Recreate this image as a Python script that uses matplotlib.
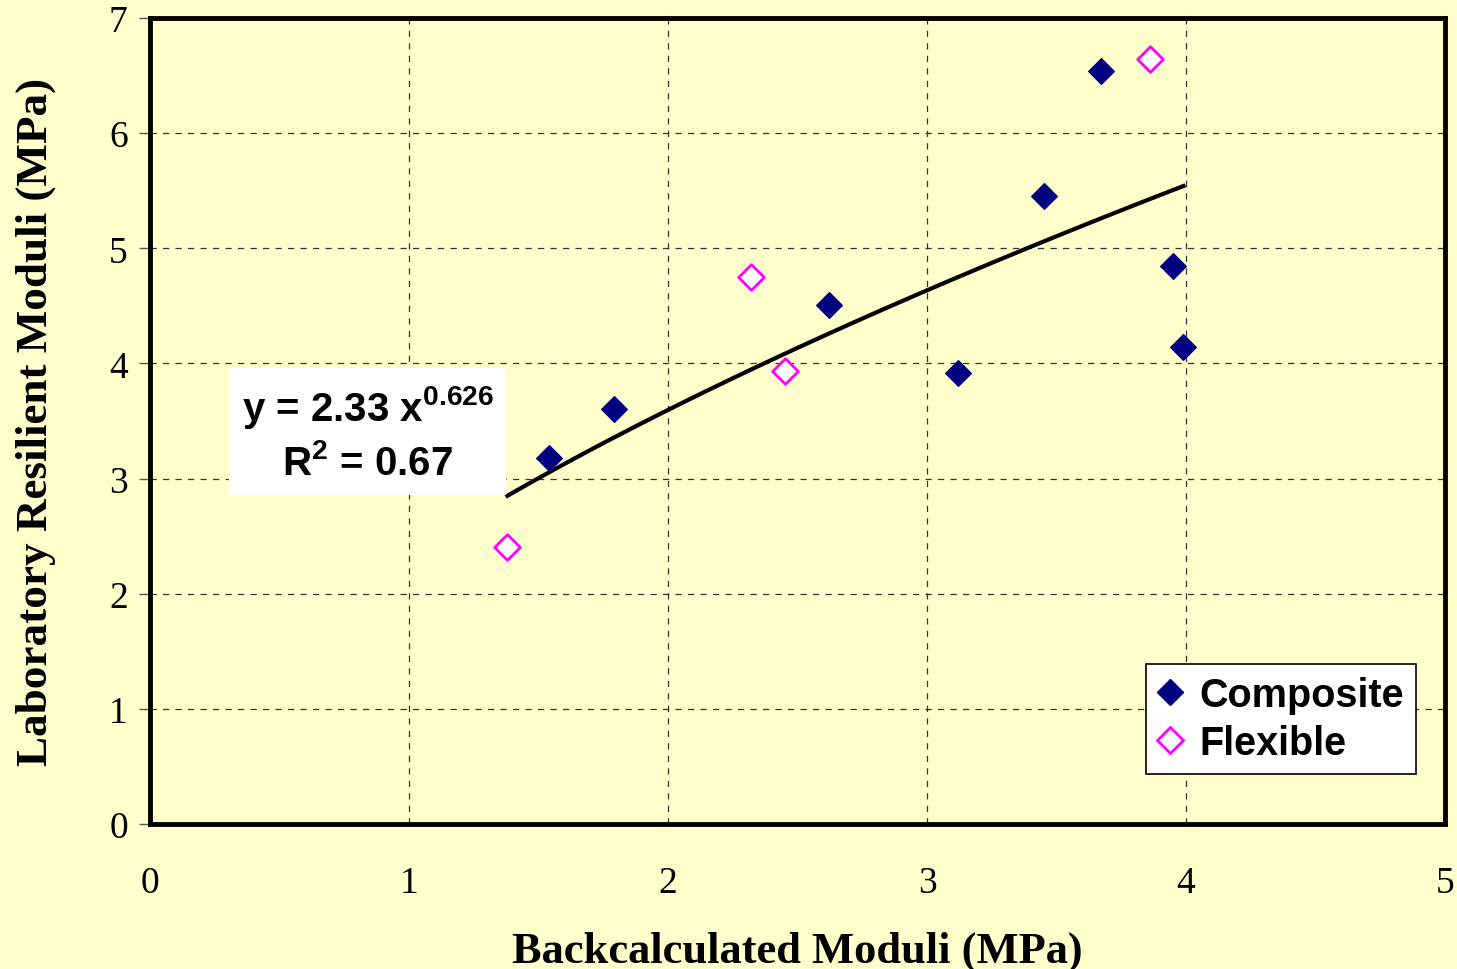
import numpy as np
import matplotlib
matplotlib.use("Agg")
import matplotlib.pyplot as plt
from matplotlib.lines import Line2D

plt.rcParams["mathtext.fontset"] = "custom"
plt.rcParams["mathtext.bf"] = "Liberation Sans:bold"
plt.rcParams["mathtext.rm"] = "Liberation Sans:bold"
plt.rcParams["mathtext.it"] = "Liberation Sans:bold"

comp_x = [1.54, 1.79, 2.62, 3.12, 3.45, 3.67, 3.95, 3.99]
comp_y = [3.18, 3.60, 4.51, 3.92, 5.45, 6.54, 4.85, 4.14]
flex_x = [1.38, 2.32, 2.45, 3.86]
flex_y = [2.41, 4.75, 3.93, 6.64]
fit_a, fit_b = 2.33, 0.626
fit_range = [1.38, 3.99]
x_ticks = [0, 1, 2, 3, 4, 5]
y_ticks = [0, 1, 2, 3, 4, 5, 6, 7]

bg = "#FFFFCC"
fig = plt.figure(figsize=(14.57, 9.70), dpi=100, facecolor=bg)
ax = fig.add_axes([150/1457, 145/970, 1295/1457, 806/970])
ax.set_facecolor(bg)

ax.set_xlim(0, 5)
ax.set_ylim(0, 7)
ax.set_xticks(x_ticks)
ax.set_yticks(y_ticks)
ax.grid(True, color="#333333", linestyle=(0, (5, 5)), linewidth=0.9)
ax.set_axisbelow(True)

xf = np.linspace(fit_range[0], fit_range[1], 100)
ax.plot(xf, fit_a * xf ** fit_b, color="black", lw=3, zorder=3)

ax.scatter(comp_x, comp_y, marker="D", s=170, color="#000080", zorder=4)
ax.scatter(flex_x, flex_y, marker="D", s=170, facecolor="white",
           edgecolor="#FF00FF", linewidth=2, zorder=4)

for s in ax.spines.values():
    s.set_linewidth(3.5)
    s.set_color("black")

serif = ["Liberation Serif", "DejaVu Serif"]
ax.tick_params(axis="y", direction="out", length=8, width=1, color="#555555",
               labelsize=27, pad=8)
ax.tick_params(axis="x", length=0, labelsize=27, pad=30)
for lab in ax.get_xticklabels() + ax.get_yticklabels():
    lab.set_fontfamily(serif)

ax.set_xlabel("Backcalculated Moduli (MPa)", fontsize=32, fontweight="bold",
              fontfamily=serif, labelpad=22)
ax.set_ylabel("Laboratory Resilient Moduli (MPa)", fontsize=32.5, fontweight="bold",
              fontfamily=serif, labelpad=38)

ax.text(0.84, 3.40, "y = 2.33 x$^{0.626}$\nR$^{2}$ = 0.67",
        fontsize=29, fontweight="bold", fontfamily="Liberation Sans",
        ha="center", va="center", linespacing=1.45, zorder=5,
        bbox=dict(boxstyle="square,pad=0.3", facecolor="white", edgecolor="none"))

handles = [Line2D([], [], marker="D", ls="none", color="#000080", markersize=13),
           Line2D([], [], marker="D", ls="none", markerfacecolor="white",
                  markeredgecolor="#FF00FF", markeredgewidth=2, markersize=13)]
leg = ax.legend(handles, ["Composite", "Flexible"], loc="lower right",
                bbox_to_anchor=(0.9775, 0.062), frameon=True, fancybox=False,
                prop={"family": "Liberation Sans", "weight": "bold", "size": 28.5},
                handlelength=0.6, handletextpad=0.45, borderpad=0.3,
                labelspacing=0.25, borderaxespad=0)
leg.get_frame().set_edgecolor("black")
leg.get_frame().set_linewidth(1.2)
leg.get_frame().set_facecolor("white")
leg.get_frame().set_alpha(1)

fig.savefig("out.png", dpi=100, facecolor=bg)
